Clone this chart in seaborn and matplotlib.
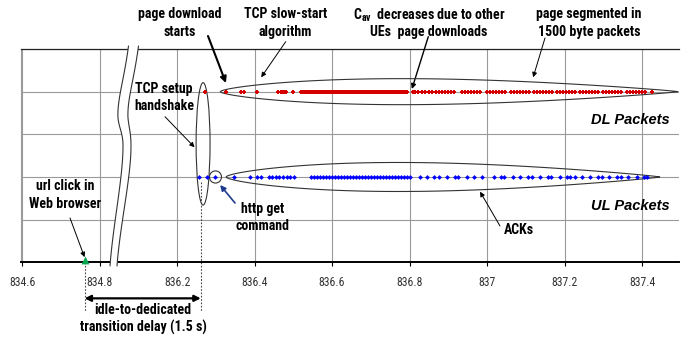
import matplotlib
matplotlib.use("Agg")
import matplotlib.pyplot as plt
import numpy as np
import pandas as pd
import seaborn as sns
from matplotlib import font_manager
from matplotlib.patches import Polygon, Ellipse
from matplotlib.lines import Line2D

# ---------------------------------------------------------------- data
url_click_time = 834.761
http_get_time = 836.298
transition_delay = 1.5
idle_gap = 1.2  # idle seconds removed from the time axis (834.8 -> 836.2)

dl_times = [
    836.272, 836.326, 836.365, 836.372, 836.406, 836.461, 836.467, 836.472,
    836.477, 836.482, 836.500,
    836.520, 836.525, 836.530, 836.535, 836.541, 836.546, 836.551, 836.556,
    836.561, 836.566, 836.572, 836.577, 836.582, 836.587, 836.592, 836.597,
    836.603, 836.608, 836.613, 836.618, 836.623, 836.628, 836.634, 836.639,
    836.644, 836.649, 836.654, 836.659, 836.665, 836.670, 836.675, 836.680,
    836.685, 836.690, 836.696, 836.701, 836.706, 836.711, 836.716, 836.721,
    836.727, 836.732, 836.737, 836.742, 836.747, 836.752, 836.758, 836.763,
    836.768, 836.773, 836.778, 836.783, 836.789, 836.794,
    836.808, 836.814, 836.823, 836.831, 836.840, 836.849, 836.857,
    836.868, 836.876, 836.883, 836.891, 836.899, 836.907, 836.914,
    836.936, 836.944, 836.951, 836.959, 836.967, 836.975, 836.982,
    837.000, 837.008, 837.015, 837.023, 837.031, 837.039, 837.046,
    837.062, 837.070, 837.077, 837.085, 837.093, 837.101, 837.108,
    837.121, 837.129, 837.136, 837.144, 837.152, 837.160, 837.167,
    837.181, 837.189, 837.196, 837.204, 837.212, 837.220, 837.227,
    837.240, 837.248, 837.255, 837.263, 837.271, 837.279, 837.286,
    837.299, 837.307, 837.314, 837.322, 837.330, 837.338, 837.345,
    837.361, 837.369, 837.376, 837.384, 837.392, 837.400, 837.407,
    837.425,
]

ul_times = [
    836.257, 836.277, 836.298, 836.348, 836.387, 836.406, 836.417,
    836.436, 836.445, 836.455, 836.464, 836.474, 836.483, 836.492, 836.502,
    836.546, 836.554, 836.561, 836.569, 836.577, 836.585, 836.592, 836.600,
    836.608, 836.615, 836.623, 836.631, 836.639, 836.646, 836.654, 836.662,
    836.670, 836.677, 836.685, 836.693, 836.701, 836.708, 836.716, 836.724,
    836.732, 836.739, 836.747, 836.755, 836.763, 836.770, 836.778, 836.786,
    836.794, 836.801,
    836.827, 836.846, 836.863, 836.876, 836.897, 836.916, 836.925, 836.948,
    836.967, 836.986, 837.018, 837.036, 837.045, 837.066, 837.086, 837.107,
    837.116, 837.137, 837.157, 837.166, 837.188, 837.206, 837.215, 837.226,
    837.245, 837.267, 837.286, 837.296, 837.315, 837.336, 837.346, 837.365,
    837.386, 837.404, 837.413,
]

tick_values = [834.6, 834.8, 836.2, 836.4, 836.6, 836.8, 837.0, 837.2, 837.4]
tick_labels = ["834.6", "834.8", "836.2", "836.4", "836.6", "836.8", "837",
               "837.2", "837.4"]
row_names = ["DL Packets", "UL Packets"]
row_levels = [4, 2]


def axis_x(t):
    """Position on the broken time axis."""
    return t + idle_gap if t < 835.5 else t


# ---------------------------------------------------------------- style
sns.set_theme(style="white")
names = {f.name for f in font_manager.fontManager.ttflist}
FONT = "Liberation Sans"
for cand in ["Liberation Sans Narrow", "Arial Narrow", "Roboto Condensed",
             "Open Sans Condensed"]:
    if cand in names:
        FONT = cand
        break
NARROW = FONT != "Liberation Sans"
plt.rcParams["font.family"] = [FONT, "DejaVu Sans"]
plt.rcParams["mathtext.fontset"] = "custom"
plt.rcParams["mathtext.rm"] = FONT
plt.rcParams["mathtext.bf"] = FONT + ":bold"

ANN_SIZE = 10 if NARROW else 8.8

W, H = 686, 339
fig = plt.figure(figsize=(W / 100, H / 100), dpi=100)
ax = fig.add_axes([21 / W, 1 - 262.3 / H, 658 / W, 213.3 / H])


def fpos(x, y):
    return x / W, 1 - y / H


packets = pd.DataFrame({
    "x": [axis_x(t) for t in dl_times] + [axis_x(t) for t in ul_times],
    "y": [row_levels[0]] * len(dl_times) + [row_levels[1]] * len(ul_times),
    "dir": ["DL"] * len(dl_times) + ["UL"] * len(ul_times),
})

sns.scatterplot(data=packets[packets.dir == "DL"], x="x", y="y", color="#d40000",
                marker="P", s=9, linewidth=0, ax=ax, zorder=6, legend=False)
sns.scatterplot(data=packets[packets.dir == "UL"], x="x", y="y", color="#0000ff",
                marker="D", s=6, linewidth=0, ax=ax, zorder=6, legend=False)

click_x = axis_x(url_click_time)
ax.scatter([click_x], [0.06], marker="^", s=32, color="#00a651", zorder=7,
           clip_on=False, linewidths=0)

# ---------------------------------------------------------------- axes
ax.set_xlim(835.797, 837.4955)
ax.set_ylim(0, 5)
ax.set_xticks([axis_x(v) for v in tick_values])
ax.set_xticklabels(tick_labels)
ax.set_yticks([0, 1, 2, 3, 4, 5])
ax.set_yticklabels([])
ax.tick_params(axis="y", length=0)
ax.tick_params(axis="x", direction="out", length=3, width=0.8, color="black",
               labelsize=8.5, labelcolor="#333333", pad=7, bottom=True)
ax.grid(True, color="#9a9a9a", lw=0.8)
ax.set_xlabel("")
ax.set_ylabel("")
ax.spines["right"].set_visible(False)
ax.spines["top"].set_color("#222222")
ax.spines["top"].set_linewidth(0.9)
ax.spines["bottom"].set_color("black")
ax.spines["bottom"].set_linewidth(1.4)
ax.spines["left"].set_color("#9a9a9a")
ax.spines["left"].set_linewidth(0.8)


# ---------------------------------------------------------------- axis break
def bezier_chain(p0, segs, n=30):
    cur = np.array(p0, float)
    pts = [cur]
    for c1, c2, p in segs:
        c1, c2, p = (np.array(v, float) for v in (c1, c2, p))
        t = np.linspace(0, 1, n)[1:, None]
        pts.extend((1 - t) ** 3 * cur + 3 * (1 - t) ** 2 * t * c1
                   + 3 * (1 - t) * t ** 2 * c2 + t ** 3 * p)
        cur = p
    return np.array(pts)


left_edge = bezier_chain((128.5, 46), [((124, 80), (117, 100), (118, 118)),
                                        ((119, 128), (123, 133), (123, 146)),
                                        ((123, 178), (113, 225), (110, 266))])
right_edge = bezier_chain((138.5, 46), [((134, 80), (127, 100), (128, 118)),
                                         ((129, 128), (131, 133), (131, 146)),
                                         ((131, 178), (120, 225), (117, 266))])


def to_fig(pts):
    return np.column_stack([pts[:, 0] / W, 1 - pts[:, 1] / H])


band = Polygon(np.vstack([to_fig(left_edge), to_fig(right_edge)[::-1]]),
               closed=True, facecolor="white", edgecolor="none",
               transform=fig.transFigure, zorder=4, clip_on=False)
ax.add_patch(band)
for edge in (left_edge, right_edge):
    e = to_fig(edge)
    ax.add_line(Line2D(e[:, 0], e[:, 1], color="#333333", lw=0.8,
                       transform=fig.transFigure, zorder=4.5, clip_on=False))


# ---------------------------------------------------------------- outlines
def lens(x0, x1, yc, half):
    s = np.linspace(0, 1, 300)
    f = np.sin(np.pi * s ** 0.75) ** 0.85
    xs = x0 + (x1 - x0) * s
    verts = np.vstack([np.column_stack([xs, yc + half * f]),
                       np.column_stack([xs[::-1], yc - half * f[::-1]])])
    ax.add_patch(Polygon(verts, closed=True, fill=False, edgecolor="#333333",
                         lw=0.8, zorder=5))


lens(836.311, 837.493, row_levels[0], 0.305)
lens(836.326, 837.446, row_levels[1], 0.34)

ax.add_patch(Ellipse((836.267, 2.776), 0.036, 2.87, fill=False,
                     edgecolor="#333333", lw=0.8, zorder=5))
ax.add_patch(Ellipse((http_get_time + 0.001, row_levels[1]), 0.031, 0.285,
                     fill=False, edgecolor="#333333", lw=0.8, zorder=5))

# ---------------------------------------------------------------- transition delay
ready_x = axis_x(url_click_time + transition_delay)
ax.plot([click_x, click_x], [0, -1.165], ls=(0, (1.5, 1.5)), color="#444444",
        lw=0.8, clip_on=False)
ax.plot([ready_x, ready_x], [1.88, -1.165], ls=(0, (1.5, 1.5)), color="#444444",
        lw=0.8, clip_on=False)
ax.annotate("", xy=(click_x, -0.845), xytext=(ready_x, -0.845),
            arrowprops=dict(arrowstyle="<|-|>", color="black", lw=1.6,
                            shrinkA=0, shrinkB=0, mutation_scale=9),
            annotation_clip=False)

# ---------------------------------------------------------------- annotations
bold = dict(fontsize=ANN_SIZE, fontweight="bold", ha="center", va="center",
            linespacing=1.3, color="black")

fig.text(*fpos(180, 23), "page download\nstarts", **bold)
fig.text(*fpos(285.5, 23), "TCP slow-start\nalgorithm", **bold)
fig.text(*fpos(429, 15), r"C$_{\mathbf{av}}$  decreases due to other", **bold)
fig.text(*fpos(429, 32), "UEs  page downloads", **bold)
fig.text(*fpos(589, 23), "page segmented in\n1500 byte packets", **bold)
fig.text(*fpos(164, 97.5), "TCP setup\nhandshake", **bold)
fig.text(*fpos(262.5, 217.5), "http get\ncommand", **bold)
fig.text(*fpos(65, 195), "url click in\nWeb browser", **bold)
fig.text(*fpos(519, 230), "ACKs", **bold)
fig.text(*fpos(143, 319), "idle-to-dedicated\ntransition delay (1.5 s)", **bold)

for name, yv in zip(row_names, [120, 206]):
    fig.text(*fpos(670, yv), name, fontsize=10.5, fontweight="bold",
             fontstyle="italic", ha="right", va="center", color="black",
             family=["Liberation Sans", "DejaVu Sans"])


def arrow(tip, start, lw=0.7, color="black", scale=7):
    ax.annotate("", xy=tip, xycoords="data", xytext=fpos(*start),
                textcoords="figure fraction",
                arrowprops=dict(arrowstyle="-|>", color=color, lw=lw,
                                shrinkA=0, shrinkB=0, mutation_scale=scale),
                annotation_clip=False)


arrow((836.326, 4.203), (208, 36), lw=1.5, scale=9)
arrow((836.417, 4.337), (285.7, 41.7))
arrow((836.806, 4.062), (428.3, 36.7), lw=1.0)
arrow((837.119, 4.337), (545, 38))
arrow((836.245, 2.696), (165, 116.7))
arrow((836.311, 1.812), (235, 203), lw=1.2, color="#1f3b8f", scale=8)
arrow((click_x, 0.12), (70, 218))
arrow((836.982, 1.655), (500, 226))

fig.savefig("out.png", dpi=100)
